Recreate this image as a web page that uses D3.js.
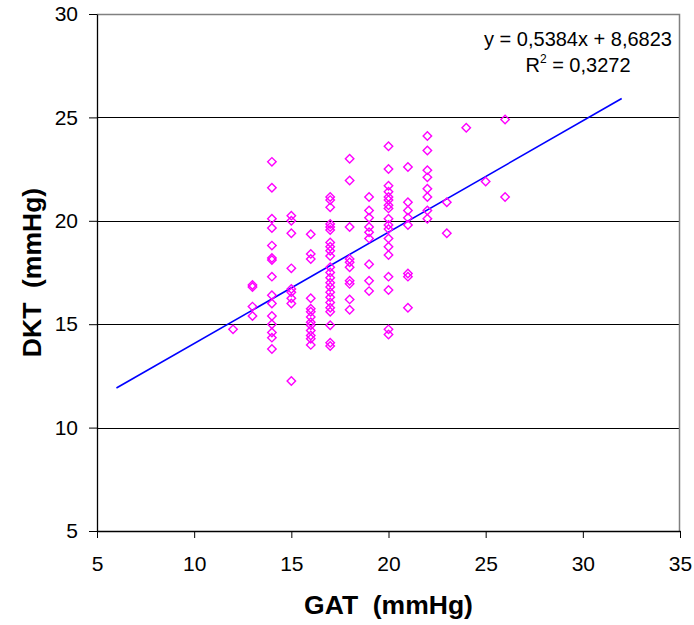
<!DOCTYPE html>
<html>
<head>
<meta charset="utf-8">
<script src="https://cdn.jsdelivr.net/npm/d3@7"></script>
<style>
  body { margin: 0; background: #fff; }
  text { font-family: Arial, "Liberation Sans", sans-serif; }
</style>
</head>
<body>
<div id="scatter"></div>
<script>
// GAT values (x) and DKT values (y), grouped by GAT
var gatValues = [12, 13, 14, 15, 16, 17, 18, 19, 20, 21, 22, 23, 24, 25, 26];
var dktValues = [
    [14.75],
    [16.9, 16.8, 15.85, 15.4],
    [22.85, 21.6, 20.1, 19.65, 18.8, 18.2, 18.1, 17.3, 16.4, 16.0, 15.4, 15.0, 14.6, 14.35, 13.8],
    [20.25, 20.0, 19.4, 17.7, 16.7, 16.55, 16.25, 16.0, 12.25],
    [19.35, 18.4, 18.15, 16.25, 15.75, 15.6, 15.35, 15.1, 14.95, 14.7, 14.45, 14.3, 14.0],
    [21.15, 21.0, 20.65, 19.85, 19.7, 19.55, 18.95, 18.75, 18.55, 18.3, 17.75, 17.5, 17.25, 17.0, 16.8, 16.55, 16.3, 16.05, 15.8, 15.6, 14.95, 14.1, 13.95],
    [23.0, 21.95, 19.7, 18.15, 18.0, 17.75, 17.1, 16.95, 16.2, 15.7],
    [21.15, 20.5, 20.15, 19.7, 19.45, 19.15, 17.9, 17.1, 16.6],
    [23.6, 22.5, 21.7, 21.4, 21.15, 21.0, 20.75, 20.6, 20.1, 19.8, 19.6, 19.15, 18.75, 18.35, 17.3, 16.65, 14.75, 14.5],
    [22.6, 20.9, 20.5, 20.15, 19.8, 17.45, 17.3, 15.8],
    [24.1, 23.4, 22.45, 22.1, 21.55, 21.15, 20.5, 20.1],
    [20.9, 19.4],
    [24.5],
    [21.9],
    [24.9, 21.15]
];

// trendline
var slope = 0.5384;
var intercept = 8.6823;
var lineRange = [6, 32];
var eqLabel = "y = 0,5384x + 8,6823";
var r2Value = "0,3272";

var xTicks = [5, 10, 15, 20, 25, 30, 35];
var yTicks = [5, 10, 15, 20, 25, 30];
var gridTicks = [10, 15, 20, 25];

// svg container
var svgWidth = 694;
var svgHeight = 625;

var margin = {
    top: 14,
    right: 14,
    bottom: 94,
    left: 97
};

var chartWidth = svgWidth - margin.left - margin.right;
var chartHeight = svgHeight - margin.top - margin.bottom;

var svg = d3.select("#scatter")
            .append("svg")
            .attr("width", svgWidth)
            .attr("height", svgHeight);

var chartGroup = svg.append("g").attr("transform", `translate(${margin.left}, ${margin.top})`);

var xScale = d3.scaleLinear().domain([5, 35]).range([0, chartWidth]);
var yScale = d3.scaleLinear().domain([5, 30]).range([chartHeight, 0]);

// flatten the data
var points = [];
gatValues.forEach(function(g, i) {
    dktValues[i].forEach(function(d) {
        points.push({ x: g, y: d });
    });
});

// gridlines
chartGroup.selectAll(".grid")
    .data(gridTicks)
    .enter()
    .append("line")
    .attr("x1", 0)
    .attr("x2", chartWidth)
    .attr("y1", d => Math.round(yScale(d)) + 0.5)
    .attr("y2", d => Math.round(yScale(d)) + 0.5)
    .attr("stroke", "#000")
    .attr("stroke-width", 1);

// top and right border (grey)
chartGroup.append("path")
    .attr("d", `M0,0.5H${chartWidth - 0.5}V${chartHeight}`)
    .attr("fill", "none")
    .attr("stroke", "#808080")
    .attr("stroke-width", 1.5);

// axes
var xAxis = d3.axisBottom(xScale).tickValues(xTicks).tickSize(7).tickPadding(18).tickSizeOuter(0);
var yAxis = d3.axisLeft(yScale).tickValues(yTicks).tickSize(8).tickPadding(11).tickSizeOuter(0);

var xAxisG = chartGroup.append("g")
    .attr("transform", `translate(0, ${chartHeight})`)
    .call(xAxis);

var yAxisG = chartGroup.append("g")
    .call(yAxis);

[xAxisG, yAxisG].forEach(function(g) {
    g.selectAll("text").attr("font-size", 21).attr("fill", "#000")
        .style("font-family", "Arial, 'Liberation Sans', sans-serif");
    g.selectAll("line").attr("stroke", "#000");
    g.select(".domain").attr("stroke", "#000").attr("stroke-width", 1.3);
});

// trendline
chartGroup.append("line")
    .attr("x1", xScale(lineRange[0]))
    .attr("y1", yScale(slope * lineRange[0] + intercept))
    .attr("x2", xScale(lineRange[1]))
    .attr("y2", yScale(slope * lineRange[1] + intercept))
    .attr("stroke", "#0000ff")
    .attr("stroke-width", 1.6);

// markers
var diamond = d3.symbol().type(d3.symbolSquare).size(36);

chartGroup.selectAll(".pt")
    .data(points)
    .enter()
    .append("path")
    .attr("d", diamond)
    .attr("transform", d => `translate(${xScale(d.x)}, ${yScale(d.y)}) rotate(45)`)
    .attr("fill", "none")
    .attr("stroke", "#ff00ff")
    .attr("stroke-width", 1.4);

// equation label
var eq = svg.append("text")
    .attr("x", 578)
    .attr("y", 46)
    .attr("text-anchor", "middle")
    .attr("font-size", 20)
    .text(eqLabel);

var r2 = svg.append("text")
    .attr("x", 578)
    .attr("y", 72)
    .attr("text-anchor", "middle")
    .attr("font-size", 20);
r2.append("tspan").text("R");
r2.append("tspan").attr("font-size", 12).attr("dy", -9).text("2");
r2.append("tspan").attr("dy", 9).text(" = " + r2Value);

// axis titles
svg.append("text")
    .attr("x", margin.left + chartWidth / 2)
    .attr("y", 614)
    .attr("text-anchor", "middle")
    .attr("font-size", 26.5)
    .attr("font-weight", "bold")
    .style("white-space", "pre")
    .text("GAT  (mmHg)");

svg.append("text")
    .attr("transform", `translate(41, ${margin.top + chartHeight / 2}) rotate(-90)`)
    .attr("text-anchor", "middle")
    .attr("font-size", 26.5)
    .attr("font-weight", "bold")
    .style("white-space", "pre")
    .text("DKT  (mmHg)");
</script>
</body>
</html>
